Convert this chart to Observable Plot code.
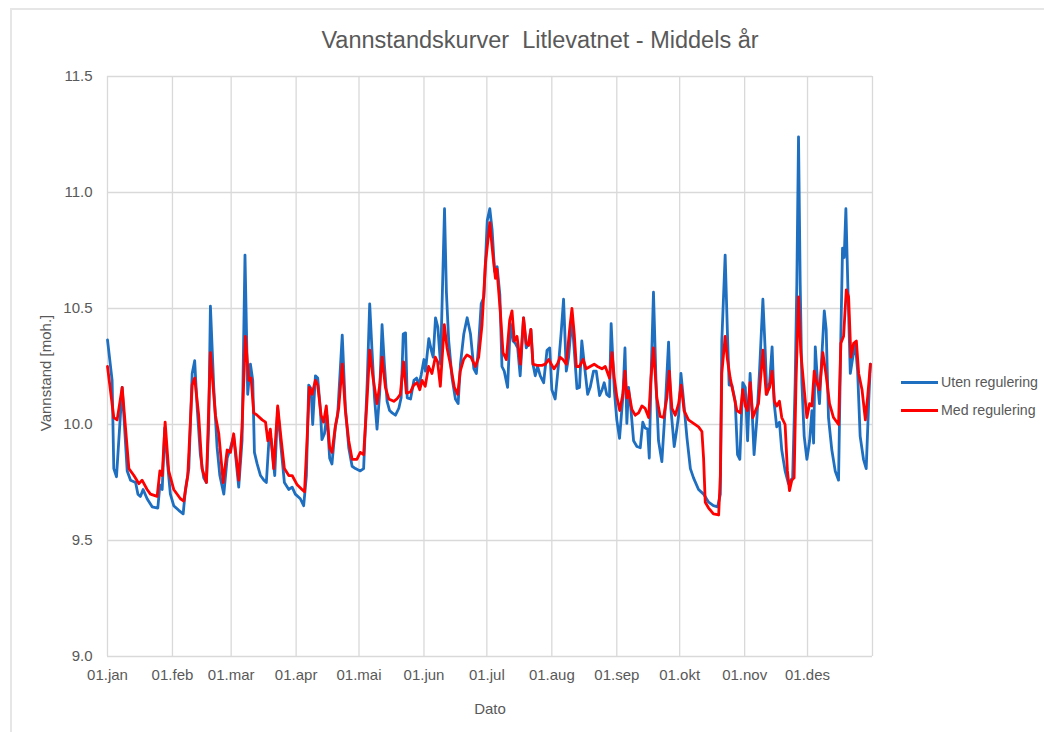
<!DOCTYPE html>
<html>
<head>
<meta charset="utf-8">
<script src="https://cdn.jsdelivr.net/npm/d3@7"></script>
<script src="https://cdn.jsdelivr.net/npm/@observablehq/plot@0.6"></script>
<style>
  html, body { margin: 0; padding: 0; background: #fff; }
  body { width: 1044px; height: 732px; position: relative; overflow: hidden; font-family: "Liberation Sans", "DejaVu Sans", sans-serif; color: #595959; }
  #frame { position: absolute; left: 10px; top: 8px; right: -5px; bottom: -5px; border: 2px solid #e6e6e6; box-sizing: border-box; }
  #chart { position: absolute; left: 0; top: 0; }
  #title { position: absolute; left: 540px; top: 40px; transform: translate(-50%, -50%); font-size: 23.5px; white-space: nowrap; }
  #ytitle { position: absolute; left: 45px; top: 373px; transform: translate(-50%, -50%) rotate(-90deg); font-size: 15px; white-space: nowrap; }
  #xtitle { position: absolute; left: 490px; top: 708px; transform: translate(-50%, -50%); font-size: 15px; }
  .leg { position: absolute; left: 901px; font-size: 14.2px; white-space: nowrap; display: flex; align-items: center; }
  .leg span.sw { display: inline-block; width: 37px; height: 3px; margin-right: 3px; }
</style>
</head>
<body>
<div id="frame"></div>
<div id="chart"></div>
<div id="title">Vannstandskurver&nbsp; Litlevatnet - Middels år</div>
<div id="ytitle">Vannstand [moh.]</div>
<div id="xtitle">Dato</div>
<div id="legend"></div>
<script>
// Month starts (day of year) and labels
const monthDays = [0, 31, 59, 90, 120, 151, 181, 212, 243, 273, 304, 334];
const monthLabels = ["01.jan", "01.feb", "01.mar", "01.apr", "01.mai", "01.jun", "01.jul", "01.aug", "01.sep", "01.okt", "01.nov", "01.des"];
const yTicks = [9.0, 9.5, 10.0, 10.5, 11.0, 11.5];
const seriesNames = ["Uten regulering", "Med regulering"];
const seriesColors = ["#1f6fc0", "#ff0000"];

// Uten regulering (blue): day of year, water level
const utenDays = [0, 2.2, 3.0, 4.3, 7.0, 9.4, 11.0, 13.4, 14.5, 15.7, 17.0, 18.9, 21.3, 24.0, 25.0, 26.1, 27.3, 28.4, 30.0, 31.6, 34.0, 36.1, 37.2, 38.8, 40.4, 41.6, 42.8, 44.3, 45.9, 47.2, 48.3, 49.1, 50.7, 52.3, 53.6, 55.5, 57.1, 58.7, 60.2, 62.6, 64.2, 65.6, 66.9, 68.2, 69.3, 70.1, 71.4, 73.0, 74.6, 75.8, 77.0, 78.0, 79.8, 81.2, 82.8, 84.4, 86.5, 88.1, 89.6, 92.0, 93.6, 94.9, 96.0, 97.1, 97.9, 99.2, 100.3, 101.6, 102.3, 103.5, 104.7, 106.0, 107.1, 108.7, 109.8, 112.0, 113.5, 115.1, 116.7, 118.3, 120.6, 122.2, 123.9, 125.1, 126.2, 127.4, 128.6, 129.9, 131.0, 132.1, 133.4, 134.6, 135.8, 137.4, 139.0, 140.1, 141.1, 142.2, 143.0, 144.6, 146.2, 147.5, 148.6, 149.7, 151.0, 151.7, 153.3, 154.5, 155.4, 156.5, 157.6, 158.9, 160.8, 161.7, 162.8, 164.4, 166.0, 167.3, 168.4, 170.0, 171.6, 173.2, 174.8, 176.0, 177.2, 178.3, 179.6, 181.2, 182.4, 183.5, 184.7, 185.9, 187.2, 188.2, 189.3, 190.9, 192.2, 193.5, 194.6, 195.7, 196.9, 198.5, 199.8, 200.9, 202.0, 203.0, 204.1, 205.2, 206.5, 208.1, 209.7, 211.0, 212.0, 213.6, 215.2, 216.4, 217.6, 218.9, 220.0, 221.6, 222.7, 224.0, 225.2, 226.3, 227.5, 229.1, 230.3, 231.9, 233.2, 234.8, 236.0, 237.0, 238.2, 239.5, 240.3, 241.8, 243.0, 244.3, 245.9, 246.9, 247.8, 248.6, 249.7, 251.0, 252.6, 254.2, 255.4, 256.5, 257.7, 258.5, 259.3, 260.5, 261.8, 262.9, 264.5, 266.1, 267.7, 268.8, 270.4, 271.7, 272.5, 273.6, 274.9, 276.5, 278.1, 279.6, 282.0, 284.4, 286.8, 289.1, 291.1, 292.4, 293.1, 294.7, 295.8, 296.6, 297.9, 299.5, 300.6, 301.7, 303.1, 304.3, 305.4, 306.6, 307.6, 308.5, 309.8, 311.1, 312.7, 313.8, 314.6, 315.9, 317.1, 318.1, 319.3, 320.6, 321.7, 323.3, 324.9, 326.0, 326.9, 328.1, 328.9, 329.7, 330.5, 331.3, 332.4, 333.7, 335.0, 336.1, 336.9, 337.7, 338.8, 339.7, 340.8, 342.0, 342.9, 344.0, 345.6, 347.2, 348.8, 349.9, 350.7, 351.5, 352.3, 353.2, 354.4, 355.6, 356.8, 357.9, 359.1, 360.7, 362.0, 363.2, 364.0];
const utenVals = [10.365, 10.19, 9.81, 9.775, 10.16, 9.80, 9.76, 9.75, 9.70, 9.69, 9.72, 9.68, 9.645, 9.64, 9.74, 9.72, 9.985, 9.855, 9.70, 9.65, 9.63, 9.615, 9.72, 9.81, 10.22, 10.275, 10.07, 9.87, 9.77, 9.75, 10.0, 10.51, 10.16, 9.90, 9.78, 9.70, 9.855, 9.90, 9.95, 9.73, 9.93, 10.73, 10.13, 10.26, 10.19, 9.88, 9.83, 9.78, 9.76, 9.75, 9.93, 9.94, 9.78, 10.07, 9.90, 9.75, 9.72, 9.73, 9.70, 9.68, 9.65, 9.78, 10.17, 10.155, 10.0, 10.21, 10.20, 10.06, 9.935, 9.96, 10.04, 9.855, 9.83, 9.99, 10.04, 10.385, 10.07, 9.90, 9.82, 9.81, 9.80, 9.81, 10.18, 10.52, 10.32, 10.115, 9.98, 10.14, 10.43, 10.26, 10.10, 10.06, 10.05, 10.04, 10.07, 10.115, 10.39, 10.395, 10.115, 10.11, 10.19, 10.20, 10.17, 10.215, 10.28, 10.23, 10.37, 10.32, 10.29, 10.46, 10.42, 10.26, 10.93, 10.57, 10.36, 10.20, 10.11, 10.09, 10.26, 10.39, 10.46, 10.39, 10.24, 10.22, 10.36, 10.52, 10.55, 10.88, 10.93, 10.84, 10.66, 10.68, 10.56, 10.25, 10.23, 10.16, 10.435, 10.36, 10.35, 10.33, 10.21, 10.46, 10.33, 10.35, 10.41, 10.26, 10.21, 10.25, 10.21, 10.18, 10.32, 10.33, 10.15, 10.11, 10.26, 10.39, 10.54, 10.23, 10.29, 10.46, 10.32, 10.155, 10.16, 10.36, 10.26, 10.13, 10.16, 10.23, 10.23, 10.125, 10.15, 10.18, 10.13, 10.12, 10.435, 10.15, 10.02, 9.94, 10.12, 10.33, 10.005, 10.16, 10.07, 9.93, 9.905, 9.90, 10.01, 9.985, 9.98, 9.855, 10.19, 10.57, 10.16, 9.93, 9.84, 10.07, 10.355, 10.07, 9.905, 9.985, 10.04, 10.22, 10.10, 9.94, 9.81, 9.77, 9.72, 9.70, 9.665, 9.65, 9.645, 9.70, 10.36, 10.73, 10.39, 10.17, 10.17, 10.10, 9.87, 9.85, 10.18, 10.16, 9.93, 10.22, 10.05, 9.87, 10.02, 10.23, 10.54, 10.32, 10.13, 10.18, 10.335, 10.09, 9.99, 10.01, 9.89, 9.80, 9.745, 9.76, 9.77, 10.18, 10.61, 11.24, 10.61, 10.18, 9.95, 9.85, 9.93, 10.06, 9.92, 10.335, 10.18, 10.09, 10.29, 10.49, 10.41, 10.03, 9.89, 9.80, 9.76, 10.38, 10.76, 10.72, 10.93, 10.61, 10.22, 10.29, 10.35, 10.23, 9.95, 9.85, 9.81, 10.10, 10.26];

// Med regulering (red): day of year, water level
const medDays = [0, 3.0, 4.6, 7.0, 10.2, 12.6, 15.0, 16.5, 18.9, 20.5, 23.7, 25.0, 26.1, 27.5, 29.2, 31.6, 34.8, 36.4, 38.3, 40.4, 41.6, 43.5, 45.1, 47.2, 49.1, 51.5, 53.1, 55.2, 57.1, 58.7, 60.2, 62.6, 64.2, 65.8, 67.4, 68.5, 69.8, 71.4, 73.8, 75.4, 76.5, 77.7, 79.3, 81.2, 82.8, 84.4, 86.5, 88.1, 90.5, 92.8, 94.0, 95.2, 96.3, 97.6, 99.2, 100.3, 101.9, 103.1, 104.4, 106.0, 107.1, 108.7, 110.3, 112.0, 113.5, 115.1, 116.7, 119.0, 120.6, 122.2, 123.8, 125.1, 126.7, 128.6, 129.9, 131.0, 132.6, 134.2, 136.6, 138.1, 139.7, 141.3, 142.6, 144.5, 146.1, 147.7, 149.0, 150.1, 151.6, 153.2, 154.8, 156.4, 157.5, 158.8, 160.7, 162.0, 163.6, 165.5, 167.1, 168.3, 169.9, 171.5, 173.4, 175.5, 177.1, 178.7, 180.3, 182.4, 184.0, 185.1, 185.8, 187.4, 188.7, 190.3, 191.9, 193.0, 194.1, 195.4, 197.0, 198.5, 199.8, 200.9, 202.0, 203.0, 204.9, 207.3, 208.9, 210.5, 213.0, 214.6, 216.0, 217.3, 218.9, 220.5, 221.6, 222.7, 223.7, 225.2, 226.9, 228.4, 230.3, 232.2, 233.8, 235.9, 237.5, 239.5, 240.7, 241.8, 243.0, 244.4, 245.9, 246.9, 247.8, 248.6, 250.2, 251.8, 253.4, 255.0, 256.5, 258.2, 259.3, 260.5, 262.1, 263.7, 265.3, 266.9, 268.0, 269.3, 270.9, 272.5, 273.7, 275.1, 277.2, 279.6, 282.0, 283.6, 284.4, 285.2, 286.8, 289.1, 291.6, 292.4, 293.1, 294.7, 295.8, 297.1, 298.7, 300.3, 301.9, 303.1, 304.3, 305.4, 306.6, 307.9, 309.2, 310.6, 312.7, 314.3, 315.9, 317.1, 318.2, 319.3, 320.6, 321.7, 323.3, 324.4, 325.4, 326.5, 327.6, 328.5, 329.7, 330.8, 332.1, 333.7, 335.0, 336.1, 337.2, 338.4, 339.7, 341.3, 342.9, 344.5, 346.4, 348.8, 349.9, 351.2, 352.5, 353.6, 354.7, 356.0, 357.3, 358.4, 360.0, 361.6, 362.7, 364.0];
const medVals = [10.25, 10.03, 10.02, 10.16, 9.81, 9.78, 9.745, 9.76, 9.72, 9.70, 9.69, 9.80, 9.78, 10.01, 9.80, 9.72, 9.68, 9.67, 9.78, 10.17, 10.20, 10.04, 9.81, 9.75, 10.31, 10.04, 9.96, 9.75, 9.89, 9.88, 9.96, 9.76, 9.99, 10.38, 10.19, 10.20, 10.05, 10.04, 10.02, 10.01, 9.93, 9.98, 9.81, 10.08, 9.94, 9.81, 9.78, 9.78, 9.74, 9.72, 9.71, 9.93, 10.16, 10.13, 10.19, 10.17, 10.04, 10.01, 10.08, 9.90, 9.88, 9.99, 10.07, 10.26, 10.06, 9.93, 9.85, 9.85, 9.88, 9.87, 10.10, 10.32, 10.20, 10.09, 10.17, 10.29, 10.16, 10.11, 10.10, 10.11, 10.13, 10.27, 10.135, 10.14, 10.17, 10.18, 10.15, 10.19, 10.165, 10.25, 10.22, 10.29, 10.27, 10.165, 10.43, 10.33, 10.26, 10.16, 10.13, 10.23, 10.28, 10.30, 10.29, 10.25, 10.29, 10.43, 10.69, 10.87, 10.72, 10.63, 10.67, 10.49, 10.31, 10.28, 10.45, 10.49, 10.36, 10.38, 10.26, 10.46, 10.35, 10.34, 10.41, 10.26, 10.255, 10.255, 10.26, 10.28, 10.24, 10.26, 10.29, 10.28, 10.26, 10.41, 10.50, 10.39, 10.25, 10.25, 10.28, 10.24, 10.25, 10.26, 10.25, 10.24, 10.25, 10.20, 10.31, 10.20, 10.12, 10.06, 10.13, 10.23, 10.115, 10.145, 10.065, 10.04, 10.05, 10.08, 10.07, 10.03, 10.20, 10.33, 10.115, 10.035, 10.03, 10.115, 10.23, 10.07, 10.04, 10.09, 10.17, 10.06, 10.02, 10.005, 9.99, 9.97, 9.855, 9.665, 9.64, 9.615, 9.61, 9.78, 10.22, 10.38, 10.28, 10.20, 10.13, 10.06, 10.05, 10.15, 10.08, 10.06, 10.18, 10.03, 10.06, 10.09, 10.32, 10.13, 10.16, 10.23, 10.10, 10.08, 10.10, 10.03, 10.0, 9.80, 9.715, 9.76, 9.77, 10.18, 10.55, 10.31, 10.18, 10.03, 10.09, 10.08, 10.23, 10.18, 10.15, 10.31, 10.21, 10.09, 10.03, 10.0, 10.35, 10.38, 10.58, 10.55, 10.29, 10.35, 10.36, 10.22, 10.15, 10.02, 10.12, 10.26];

const uten = utenDays.map((d, i) => ({day: d, v: utenVals[i]}));
const med = medDays.map((d, i) => ({day: d, v: medVals[i]}));

const gridStyle = {stroke: "#d9d9d9", strokeOpacity: 1, strokeWidth: 1.3};

const chart = Plot.plot({
  width: 1044,
  height: 732,
  marginLeft: 107,
  marginRight: 172,
  marginTop: 76,
  marginBottom: 76,
  style: {fontFamily: "'Liberation Sans', 'DejaVu Sans', sans-serif", fontSize: "15px", color: "#595959", background: "transparent"},
  x: {type: "linear", domain: [0, 365]},
  y: {domain: [9.0, 11.5]},
  marks: [
    Plot.gridY(yTicks, gridStyle),
    Plot.gridX(monthDays.concat([365]), gridStyle),
    Plot.axisY(yTicks, {tickSize: 0, tickPadding: 15, tickFormat: d => d.toFixed(1), label: null, fontSize: 15}),
    Plot.axisX(monthDays, {tickSize: 0, tickPadding: 13, tickFormat: d => monthLabels[monthDays.indexOf(d)], label: null, fontSize: 15}),
    Plot.line(uten, {x: "day", y: "v", stroke: seriesColors[0], strokeWidth: 2.8, strokeLinejoin: "round"}),
    Plot.line(med, {x: "day", y: "v", stroke: seriesColors[1], strokeWidth: 2.8, strokeLinejoin: "round"})
  ]
});
document.getElementById("chart").appendChild(chart);

// Legend
const legend = document.getElementById("legend");
const legendTops = [383, 411];
seriesNames.forEach((name, i) => {
  const item = document.createElement("div");
  item.className = "leg";
  item.style.top = (legendTops[i] - 9) + "px";
  const sw = document.createElement("span");
  sw.className = "sw";
  sw.style.background = seriesColors[i];
  item.appendChild(sw);
  item.appendChild(document.createTextNode(name));
  legend.appendChild(item);
});
</script>
</body>
</html>
